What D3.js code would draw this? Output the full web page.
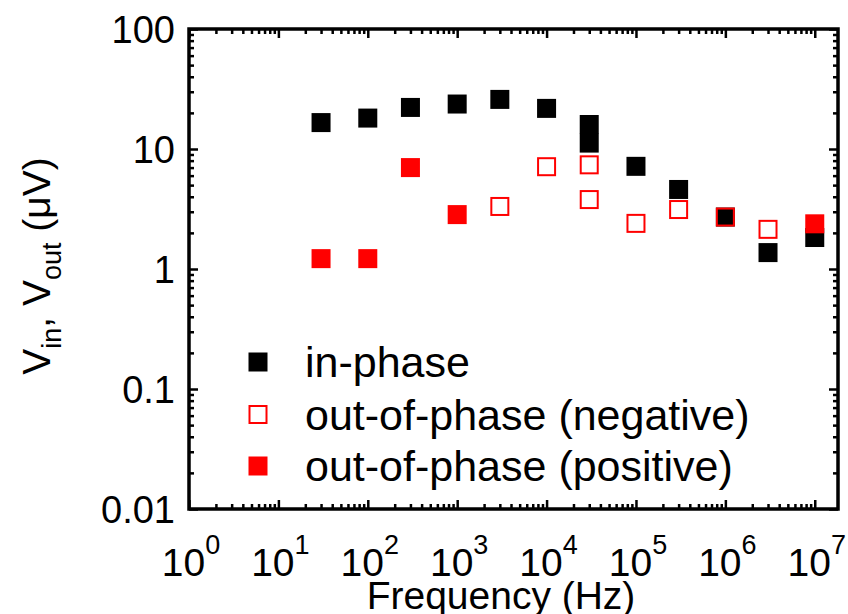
<!DOCTYPE html>
<html>
<head>
<meta charset="utf-8">
<script src="https://cdn.jsdelivr.net/npm/d3@7"></script>
<style>
  body { margin: 0; background: #fff; }
  text { font-family: Arial, "Liberation Sans", sans-serif; fill: #000; }
</style>
</head>
<body>
<script>
var w = 848;
var h = 614;

// frequencies (Hz) and signal amplitudes (uV)
var inPhaseFreq = [30, 100, 300, 1000, 3000, 10000, 30000, 30000, 100000, 300000, 1000000, 3000000, 10000000];
var inPhaseVal = [16.6, 18.1, 22.2, 23.7, 25.9, 21.8, 16.0, 11.2, 7.17, 4.6, 2.71, 1.37, 1.83];

var negFreq = [3000, 10000, 30000, 30000, 100000, 300000, 1000000, 3000000];
var negVal = [3.32, 7.12, 7.38, 3.79, 2.40, 3.13, 2.71, 2.14];

var posFreq = [30, 100, 300, 1000, 10000000];
var posVal = [1.22, 1.22, 7.0, 2.84, 2.38];

var xTickExp = [0, 1, 2, 3, 4, 5, 6, 7];
var yTickVals = [100, 10, 1, 0.1, 0.01];
var yTickText = ["100", "10", "1", "0.1", "0.01"];

var legendNames = ["in-phase", "out-of-phase (negative)", "out-of-phase (positive)"];

var plotL = 189, plotR = 838, plotT = 29, plotB = 509;
var ms = 19; // marker size

var svg = d3.select("body").append("svg").attr("width", w).attr("height", h);

let xScale = d3.scaleLog()
    .domain([1, Math.pow(10, 7.26)])
    .range([plotL, plotR]);

let yScale = d3.scaleLog()
    .domain([0.01, 100])
    .range([plotB, plotT]);

// tick values
var xMajor = xTickExp.map(e => Math.pow(10, e));
var xMinor = [];
xTickExp.forEach(e => {
    for (var k = 2; k <= 9; k++) {
        var v = k * Math.pow(10, e);
        if (v < xScale.domain()[1]) xMinor.push(v);
    }
});
var yMinor = [];
[-2, -1, 0, 1].forEach(e => {
    for (var k = 2; k <= 9; k++) yMinor.push(k * Math.pow(10, e));
});

function tickAxis(axis, scale, vals, size, transform) {
    var g = svg.append("g")
        .attr("transform", transform)
        .call(axis(scale).tickValues(vals).tickSize(size).tickFormat(""));
    g.select(".domain").remove();
    g.selectAll("line").attr("stroke", "#000").attr("stroke-width", 2.5);
}

// inward ticks on all four sides
tickAxis(d3.axisBottom, xScale, xMajor, -9, "translate(0," + plotB + ")");
tickAxis(d3.axisBottom, xScale, xMinor, -5, "translate(0," + plotB + ")");
tickAxis(d3.axisTop, xScale, xMajor, -9, "translate(0," + plotT + ")");
tickAxis(d3.axisTop, xScale, xMinor, -5, "translate(0," + plotT + ")");
tickAxis(d3.axisLeft, yScale, yTickVals, -9, "translate(" + plotL + ",0)");
tickAxis(d3.axisLeft, yScale, yMinor, -5, "translate(" + plotL + ",0)");
tickAxis(d3.axisRight, yScale, yTickVals, -9, "translate(" + plotR + ",0)");
tickAxis(d3.axisRight, yScale, yMinor, -5, "translate(" + plotR + ",0)");

// frame
svg.append("rect")
    .attr("x", plotL).attr("y", plotT)
    .attr("width", plotR - plotL).attr("height", plotB - plotT)
    .attr("fill", "none").attr("stroke", "#000").attr("stroke-width", 3.5);

// y tick labels
svg.selectAll(".ylab")
    .data(yTickVals).enter()
    .append("text")
    .attr("class", "ylab")
    .attr("x", 175)
    .attr("y", d => yScale(d))
    .attr("dy", "0.36em")
    .attr("text-anchor", "end")
    .attr("font-size", "38px")
    .text((d, i) => yTickText[i]);

// x tick labels 10^n
var xl = svg.selectAll(".xlab")
    .data(xTickExp).enter()
    .append("text")
    .attr("class", "xlab")
    .attr("x", d => xScale(Math.pow(10, d)) + 2)
    .attr("y", 576)
    .attr("text-anchor", "middle")
    .attr("font-size", "39px");
xl.append("tspan").text("10");
xl.append("tspan").attr("font-size", "27px").attr("dy", -22).text(d => d);

// axis titles
svg.append("text")
    .attr("x", 501)
    .attr("y", 609)
    .attr("text-anchor", "middle")
    .attr("font-size", "39px")
    .text("Frequency (Hz)");

var yt = svg.append("text")
    .attr("transform", "translate(50,266) rotate(-90)")
    .attr("text-anchor", "middle")
    .attr("font-size", "39px");
yt.append("tspan").text("V");
yt.append("tspan").attr("font-size", "27px").attr("dy", 11).text("in");
yt.append("tspan").attr("dy", -11).text(", V");
yt.append("tspan").attr("font-size", "27px").attr("dy", 11).text("out");
yt.append("tspan").attr("dy", -11).text(" (\u03bcV)");

// data points
var inPhase = inPhaseFreq.map((f, i) => [f, inPhaseVal[i]]);
var neg = negFreq.map((f, i) => [f, negVal[i]]);
var pos = posFreq.map((f, i) => [f, posVal[i]]);

svg.selectAll(".inphase")
    .data(inPhase).enter()
    .append("rect")
    .attr("class", "inphase")
    .attr("x", d => xScale(d[0]) - ms / 2)
    .attr("y", d => yScale(d[1]) - ms / 2)
    .attr("width", ms).attr("height", ms)
    .attr("fill", "#000");

svg.selectAll(".pos")
    .data(pos).enter()
    .append("rect")
    .attr("class", "pos")
    .attr("x", d => xScale(d[0]) - ms / 2)
    .attr("y", d => yScale(d[1]) - ms / 2)
    .attr("width", ms).attr("height", ms)
    .attr("fill", "#ff0000");

svg.selectAll(".neg")
    .data(neg).enter()
    .append("rect")
    .attr("class", "neg")
    .attr("x", d => xScale(d[0]) - ms / 2 + 1)
    .attr("y", d => yScale(d[1]) - ms / 2 + 1)
    .attr("width", ms - 2).attr("height", ms - 2)
    .attr("fill", "none")
    .attr("stroke", "#ff0000")
    .attr("stroke-width", 2);

// legend
var legY = [362, 414.5, 466];
var legX = 258;
svg.append("rect")
    .attr("x", legX - ms / 2).attr("y", legY[0] - ms / 2)
    .attr("width", ms).attr("height", ms).attr("fill", "#000");
svg.append("rect")
    .attr("x", legX - ms / 2 + 1).attr("y", legY[1] - ms / 2 + 1)
    .attr("width", ms - 2).attr("height", ms - 2)
    .attr("fill", "none").attr("stroke", "#ff0000").attr("stroke-width", 2);
svg.append("rect")
    .attr("x", legX - ms / 2).attr("y", legY[2] - ms / 2)
    .attr("width", ms).attr("height", ms).attr("fill", "#ff0000");

svg.selectAll(".legtext")
    .data(legendNames).enter()
    .append("text")
    .attr("class", "legtext")
    .attr("x", 305)
    .attr("y", (d, i) => legY[i])
    .attr("dy", "0.36em")
    .attr("font-size", "43px")
    .text(d => d);
</script>
</body>
</html>
